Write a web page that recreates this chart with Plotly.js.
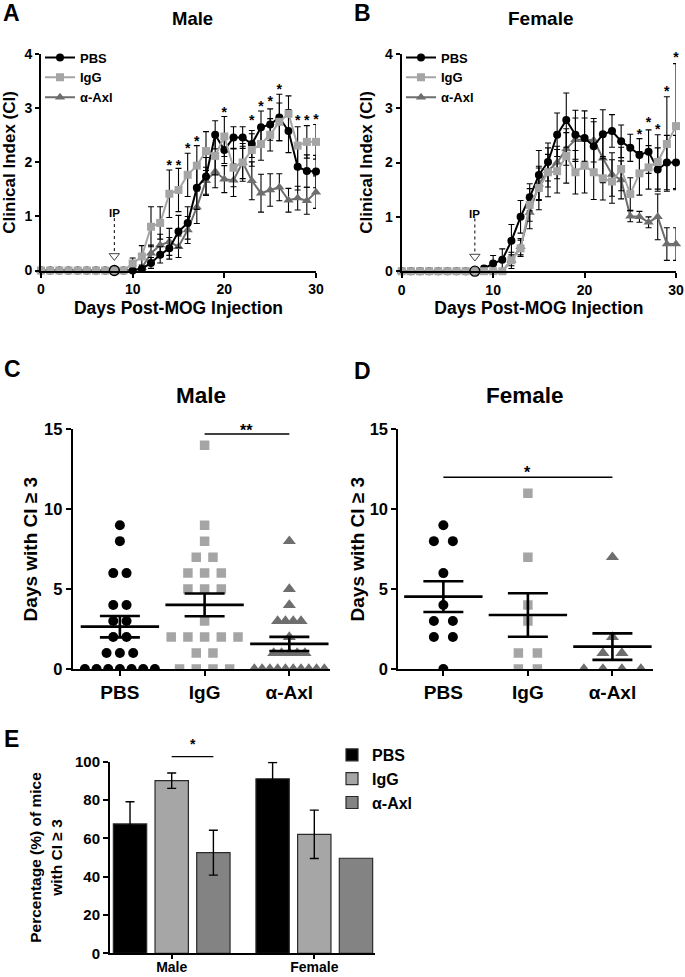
<!DOCTYPE html>
<html><head><meta charset="utf-8">
<script src="https://cdn.plot.ly/plotly-3.0.1.min.js"></script>
<style>html,body{margin:0;padding:0;background:#fff}#chart{width:685px;height:977px}</style>
</head><body><div id="chart"></div>
<script>
// ---------------- DATA ----------------
const days = [0,1,2,3,4,5,6,7,8,9,10,11,12,13,14,15,16,17,18,19,20,21,22,23,24,25,26,27,28,29,30];
const groupNames = ['PBS', 'IgG', 'α-Axl'];
const ipDay = 8;

// Panel A (male) clinical index, mean and SEM per day
const malePBS    = [0,0,0,0,0,0,0,0,0,0,0,0.03,0.14,0.29,0.41,0.72,0.88,1.53,1.74,2.51,2.23,2.46,2.46,2.34,2.65,2.70,2.83,2.58,1.92,1.84,1.83];
const malePBSErr = [0,0,0,0,0,0,0,0,0,0,0,0.05,0.10,0.15,0.20,0.30,0.30,0.40,0.35,0.26,0.25,0.20,0.20,0.25,0.30,0.29,0.43,0.40,0.43,0.30,0.30];
const maleIgG    = [0,0,0,0,0,0,0,0,0,0,0.13,0.26,0.81,0.88,1.42,1.49,1.77,1.94,2.21,2.12,2.48,1.90,2.00,2.23,2.34,2.51,2.75,2.90,2.31,2.38,2.38];
const maleIgGErr = [0,0,0,0,0,0,0,0,0,0,0.10,0.20,0.37,0.30,0.44,0.40,0.40,0.37,0.36,0.35,0.37,0.35,0.35,0.30,0.30,0.30,0.35,0.33,0.35,0.30,0.32];
const maleAxl    = [0,0,0,0,0,0,0,0,0,0,0,0.05,0.32,0.47,0.53,0.44,0.75,1.17,1.66,1.83,1.69,1.67,2.00,1.66,1.43,1.49,1.54,1.30,1.34,1.29,1.45];
const maleAxlErr = [0,0,0,0,0,0,0,0,0,0,0,0.05,0.15,0.20,0.25,0.20,0.25,0.30,0.25,0.30,0.25,0.30,0.30,0.35,0.35,0.30,0.25,0.22,0.22,0.25,0.30];
const maleStarDays = [14,15,16,17,20,23,24,25,26,28,29,30];
const maleStarY    = [1.99,1.99,2.30,2.43,2.97,2.81,3.08,3.16,3.39,2.81,2.81,2.84];

// Panel B (female)
const femPBS    = [0,0,0,0,0,0,0,0,0,0.05,0.14,0.21,0.56,1.00,1.36,1.77,2.01,2.51,2.78,2.51,2.45,2.30,2.52,2.58,2.39,2.27,2.14,2.20,1.87,2.00,2.00];
const femPBSErr = [0,0,0,0,0,0,0,0,0,0.05,0.15,0.20,0.30,0.30,0.25,0.45,0.35,0.40,0.50,0.45,0.50,0.45,0.45,0.30,0.30,0.25,0.30,0.40,0.40,0.50,0.50];
const femIgG    = [0,0,0,0,0,0,0,0,0,0,0,0,0.20,0.42,1.22,1.53,1.82,1.84,2.12,1.82,1.94,1.82,1.71,1.65,1.88,1.42,1.80,1.91,2.01,2.34,2.67];
const femIgGErr = [0,0,0,0,0,0,0,0,0,0,0,0,0.15,0.15,0.30,0.40,0.45,0.40,0.50,0.40,0.50,0.50,0.40,0.40,0.40,0.30,0.40,0.40,0.50,0.87,1.15];
const femAxl    = [0,0,0,0,0,0,0,0,0,0,0,0,0.20,0.45,1.08,1.60,1.85,2.00,2.25,2.42,2.42,2.41,2.08,1.78,1.68,1.01,1.00,0.90,1.00,0.50,0.50];
const femAxlErr = [0,0,0,0,0,0,0,0,0,0,0,0,0.10,0.15,0.30,0.30,0.30,0.30,0.30,0.40,0.40,0.40,0.45,0.40,0.35,0.10,0.10,0.10,0.42,0.30,0.30];
const femStarDays = [26,27,28,29,30];
const femStarY    = [2.56,2.78,2.64,3.34,3.97];

// Panel C (male) days with CI >= 3, per mouse
const cPBS = [9,8,6,6,4,4,3,3,2,2,1,1,1,0,0,0,0,0,0,0];
const cIgG = [14,9,8,7,7,6,6,6,5,5,5,3,2,2,2,2,2,1,1,0,0,0,0];
const cAxl = [8,5,4,3,3,3,3,2,1,1,1,1,1,0,0,0,0,0,0,0,0,0,0];
const cMean = [2.65, 4.01, 1.57];
const cSem  = [0.67, 0.71, 0.44];
const cSigPair = [2, 3], cSigY = 14.7, cSigText = '**';

// Panel D (female)
const dPBS = [9,8,8,6,4,3,3,2,2,0];
const dIgG = [11,7,4,3,1,1,0,0];
const dAxl = [7,2,1,1,0,0,0,0];
const dMean = [4.53, 3.38, 1.40];
const dSem  = [0.96, 1.36, 0.83];
const dSigPair = [1, 3], dSigY = 12.0, dSigText = '*';

// Panel E: percentage of mice with CI >= 3
const eSexes = ['Male', 'Female'];
const ePBS = [67.5, 91.1], ePBSErr = [11.6, 8.5];
const eIgG = [90.1, 62.1], eIgGErr = [4.0, 12.6];
const eAxl = [52.5, 49.6], eAxlErr = [11.7, null];
const eSigY = 102.6, eSigText = '*';

// ---------------- STYLE / LAYOUT ----------------
const W = 685, H = 977;
const FONT = 'Liberation Sans, Arial, Helvetica, sans-serif';
const px = v => v / W;
const py = v => 1 - v / H;
const cPBSColor = '#000000', cIgGColor = '#a5a5a5', cAxlColor = '#6e6e6e';

function axisBase(extra) {
  return Object.assign({showline:true, linewidth:2, linecolor:'#000', ticks:'outside', ticklen:5,
    tickwidth:2, tickcolor:'#000', showgrid:false, zeroline:false, fixedrange:true}, extra);
}

const traces = [];

function lineTrace(y, err, name, color, symbol, size, xa, ya, legend, rank) {
  return {type:'scatter', mode:'lines+markers', x:days, y:y, name:name, xaxis:xa, yaxis:ya,
    legend:legend, legendrank:rank, cliponaxis:false,
    line:{color:color, width:2}, marker:{color:color, symbol:symbol, size:size},
    error_y:{type:'data', array:err, visible:true, color:'#000', thickness:1.1, width:3}};
}
function starTrace(xs, ys, xa, ya) {
  return {type:'scatter', mode:'text', x:xs, y:ys.map(v => v - 0.06), text:xs.map(() => '*'),
    textfont:{size:14, family:FONT, weight:'bold', color:'#000'}, textposition:'middle center',
    xaxis:xa, yaxis:ya, showlegend:false, cliponaxis:false, hoverinfo:'skip'};
}
function ipTraces(xa, ya) {
  return [
    {type:'scatter', mode:'markers', x:[ipDay], y:[0], xaxis:xa, yaxis:ya, showlegend:false, cliponaxis:false,
     marker:{symbol:'circle-open', size:10, color:'#000', line:{width:1.3}}, hoverinfo:'skip'},
    {type:'scatter', mode:'markers', x:[ipDay], y:[0.27], xaxis:xa, yaxis:ya, showlegend:false, cliponaxis:false,
     marker:{symbol:'triangle-down-open', size:9, color:'#444', line:{width:1}}, hoverinfo:'skip'}
  ];
}

// Panel A
traces.push(lineTrace(maleAxl, maleAxlErr, groupNames[2], cAxlColor, 'triangle-up', 9, 'x', 'y', 'legend', 3));
traces.push(lineTrace(malePBS, malePBSErr, groupNames[0], cPBSColor, 'circle', 8, 'x', 'y', 'legend', 1));
traces.push(lineTrace(maleIgG, maleIgGErr, groupNames[1], cIgGColor, 'square', 8, 'x', 'y', 'legend', 2));
traces.push(starTrace(maleStarDays, maleStarY, 'x', 'y'));
traces.push(...ipTraces('x', 'y'));
// Panel B
traces.push(lineTrace(femAxl, femAxlErr, groupNames[2], cAxlColor, 'triangle-up', 9, 'x2', 'y2', 'legend2', 3));
traces.push(lineTrace(femPBS, femPBSErr, groupNames[0], cPBSColor, 'circle', 8, 'x2', 'y2', 'legend2', 1));
traces.push(lineTrace(femIgG, femIgGErr, groupNames[1], cIgGColor, 'square', 8, 'x2', 'y2', 'legend2', 2));
traces.push(starTrace(femStarDays, femStarY, 'x2', 'y2'));
traces.push(...ipTraces('x2', 'y2'));

// Panels C, D dot plots
const cX = {domain:[px(72.7), px(330)], range:[0.443, 3.48]};
const dX = {domain:[px(398.3), px(653)], range:[0.467, 3.48]};
function pxPerUnit(ax) { return (ax.domain[1]-ax.domain[0]) * W / (ax.range[1]-ax.range[0]); }
function swarm(values, center, spacingPx, maxWidthPx, ppu) {
  const counts = {}; values.forEach(v => counts[v] = (counts[v] || 0) + 1);
  const seen = {};
  return values.map(v => {
    const n = counts[v]; const i = seen[v] = (seen[v] === undefined ? 0 : seen[v] + 1);
    let sp = spacingPx; if (n > 1 && (n-1)*sp > maxWidthPx) sp = maxWidthPx/(n-1);
    return center + (i - (n-1)/2) * sp / ppu;
  });
}
function dotTraces(groups, spacings, mean, sem, axObj, xa, ya) {
  const ppu = pxPerUnit(axObj);
  const syms = ['circle', 'square', 'triangle-up'], sizes = [10, 9.5, 11.5];
  const cols = [cPBSColor, cIgGColor, cAxlColor];
  const out = groups.map((vals, g) => ({type:'scatter', mode:'markers', x:swarm(vals, g+1, spacings[g], 70, ppu), y:vals,
    xaxis:xa, yaxis:ya, showlegend:false, cliponaxis:true,
    marker:{symbol:syms[g], size:sizes[g], color:cols[g], line:{width:0}}}));
  out.push({type:'scatter', mode:'markers', x:[1,2,3], y:mean, xaxis:xa, yaxis:ya, showlegend:false, cliponaxis:false,
    marker:{symbol:'line-ew', size:56, color:'#000', line:{width:2.6, color:'#000'}},
    error_y:{type:'data', array:sem, visible:true, color:'#000', thickness:2.6, width:20}});
  return out;
}
traces.push(...dotTraces([cPBS, cIgG, cAxl], [13.3, 16.7, 7.8], cMean, cSem, cX, 'x3', 'y3'));
traces.push(...dotTraces([dPBS, dIgG, dAxl], [19, 19, 19], dMean, dSem, dX, 'x4', 'y4'));

// Panel E bars
const eBarGap = 0.123, eGroupGap = 0.2;
const eSlot = (1 - eBarGap) / 3;
const eCols = ['#000000', '#a6a6a6', '#838383'];
[[ePBS, ePBSErr], [eIgG, eIgGErr], [eAxl, eAxlErr]].forEach((d, i) => {
  traces.push({type:'bar', x:[0, 1], y:d[0], name:groupNames[i], xaxis:'x5', yaxis:'y5', legend:'legend3',
    legendgroup:'e' + i, marker:{color:eCols[i], line:{color:'#2a2a2a', width:1.2}}, cliponaxis:false,
    error_y:{type:'data', array:d[1].map(v => v === null ? NaN : v), visible:true, color:'#000', thickness:1.4, width:4.5}});
});

// E axis geometry, used to put the significance bar (above the 0-100 range) on paper
const eY = {domain:[py(953.3), py(761.7)], range:[0, 100]};
const eYtoPaper = v => eY.domain[0] + (v - eY.range[0]) / (eY.range[1] - eY.range[0]) * (eY.domain[1] - eY.domain[0]);

const ann = [];
function A(x, y, text, size, extra) {
  ann.push(Object.assign({xref:'paper', yref:'paper', x:px(x), y:py(y), text:text, showarrow:false,
    font:{size:size, family:FONT, weight:'bold', color:'#000'}, xanchor:'center', yanchor:'middle'}, extra || {}));
}
A(11, 13, 'A', 23); A(362, 13, 'B', 23); A(12.5, 369, 'C', 23); A(362, 371, 'D', 23); A(11.5, 739, 'E', 23);
A(192.5, 18, 'Male', 18.5); A(540, 18, 'Female', 19);
A(201, 395, 'Male', 22.5); A(525, 395, 'Female', 22.5);
// IP labels
['x', 'x2'].forEach((xa, k) => {
  ann.push({xref:xa, yref:k ? 'y2' : 'y', x:ipDay, y:1.06, text:'IP', showarrow:false,
    font:{size:11.5, family:FONT, weight:'bold', color:'#000'}});
});
// significance texts
const sigFont = s => ({size:s, family:FONT, weight:'bold', color:'#000'});
ann.push({xref:'x3', yref:'paper', x:(cSigPair[0]+cSigPair[1])/2, y:py(430), text:cSigText, showarrow:false,
  font:sigFont(16), yanchor:'middle'});
ann.push({xref:'x4', yref:'y4', x:(dSigPair[0]+dSigPair[1])/2, y:dSigY+0.3, text:dSigText, showarrow:false,
  font:sigFont(16), yanchor:'middle'});
ann.push({xref:'x5', yref:'paper', x:eSlot/2, y:eYtoPaper(eSigY) + 3/H, text:eSigText, showarrow:false,
  font:sigFont(14), yanchor:'bottom'});

const shapes = [
  {type:'line', xref:'x', yref:'y', x0:ipDay, x1:ipDay, y0:0.97, y1:0.34, line:{color:'#000', width:1, dash:'dot'}},
  {type:'line', xref:'x2', yref:'y2', x0:ipDay, x1:ipDay, y0:0.97, y1:0.34, line:{color:'#000', width:1, dash:'dot'}},
  {type:'line', xref:'x3', yref:'y3', x0:cSigPair[0], x1:cSigPair[1], y0:cSigY, y1:cSigY, line:{color:'#000', width:1.5}},
  {type:'line', xref:'x4', yref:'y4', x0:dSigPair[0], x1:dSigPair[1], y0:dSigY, y1:dSigY, line:{color:'#000', width:1.5}},
  {type:'line', xref:'x5', yref:'paper', x0:0, x1:eSlot, y0:eYtoPaper(eSigY), y1:eYtoPaper(eSigY), line:{color:'#000', width:1.3}}
];

const tf = s => ({size:s, family:FONT, weight:'bold', color:'#000'});
const legendBase = {xanchor:'left', yanchor:'top', bgcolor:'rgba(0,0,0,0)', borderwidth:0, itemwidth:30,
  tracegroupgap:0, traceorder:'normal', font:tf(13)};

const layout = {
  width:W, height:H, margin:{l:0, r:0, t:0, b:0}, paper_bgcolor:'#fff', plot_bgcolor:'rgba(0,0,0,0)',
  font:{family:FONT, color:'#000', weight:'bold'},
  showlegend:true, hovermode:false, barmode:'group', bargap:eBarGap, bargroupgap:eGroupGap,
  xaxis: axisBase({domain:[px(41), px(316)], range:[0, 30], tickvals:[0,10,20,30], tickfont:tf(14), anchor:'y',
    title:{text:'Days Post-MOG Injection', font:tf(17.5), standoff:5}}),
  yaxis: axisBase({domain:[py(270.5), py(54.3)], range:[0, 4], tickvals:[0,1,2,3,4], tickfont:tf(14), anchor:'x', ticklen:4,
    title:{text:'Clinical Index (CI)', font:tf(17), standoff:8}}),
  xaxis2: axisBase({domain:[px(401.7), px(676)], range:[0, 30], tickvals:[0,10,20,30], tickfont:tf(14), anchor:'y2',
    title:{text:'Days Post-MOG Injection', font:tf(17.5), standoff:5}}),
  yaxis2: axisBase({domain:[py(271.2), py(53.8)], range:[0, 4], tickvals:[0,1,2,3,4], tickfont:tf(14), anchor:'x2', ticklen:4,
    title:{text:'Clinical Index (CI)', font:tf(17), standoff:8}}),
  xaxis3: axisBase({domain:cX.domain, range:cX.range, tickvals:[1,2,3], ticktext:groupNames, tickfont:tf(19), anchor:'y3'}),
  yaxis3: axisBase({domain:[py(669), py(429.3)], range:[0, 15], tickvals:[0,5,10,15], tickfont:tf(16.5), anchor:'x3',
    title:{text:'Days with CI ≥ 3', font:tf(19), standoff:1}}),
  xaxis4: axisBase({domain:dX.domain, range:dX.range, tickvals:[1,2,3], ticktext:groupNames, tickfont:tf(19), anchor:'y4'}),
  yaxis4: axisBase({domain:[py(669), py(429.3)], range:[0, 15], tickvals:[0,5,10,15], tickfont:tf(16.5), anchor:'x4',
    title:{text:'Days with CI ≥ 3', font:tf(19), standoff:0}}),
  xaxis5: axisBase({domain:[px(110), px(375)], range:[-0.4327, 1.4257], tickvals:[0,1], ticktext:eSexes, tickfont:tf(14),
    anchor:'y5', ticklen:4, ticklabelstandoff:-4}),
  yaxis5: axisBase({domain:eY.domain, range:eY.range, tickvals:[0,20,40,60,80,100], tickfont:tf(15), anchor:'x5',
    title:{text:'Percentage (%) of mice<br>with CI ≥ 3', font:tf(15.5), standoff:9}}),
  legend: Object.assign({}, legendBase, {x:px(40), y:py(42.5)}),
  legend2: Object.assign({}, legendBase, {x:px(401), y:py(42.5)}),
  legend3: Object.assign({}, legendBase, {x:px(332), y:py(738), font:tf(16), tracegroupgap:9}),
  annotations: ann, shapes: shapes
};

Plotly.newPlot('chart', traces, layout, {staticPlot:true, displayModeBar:false});
</script></body></html>
